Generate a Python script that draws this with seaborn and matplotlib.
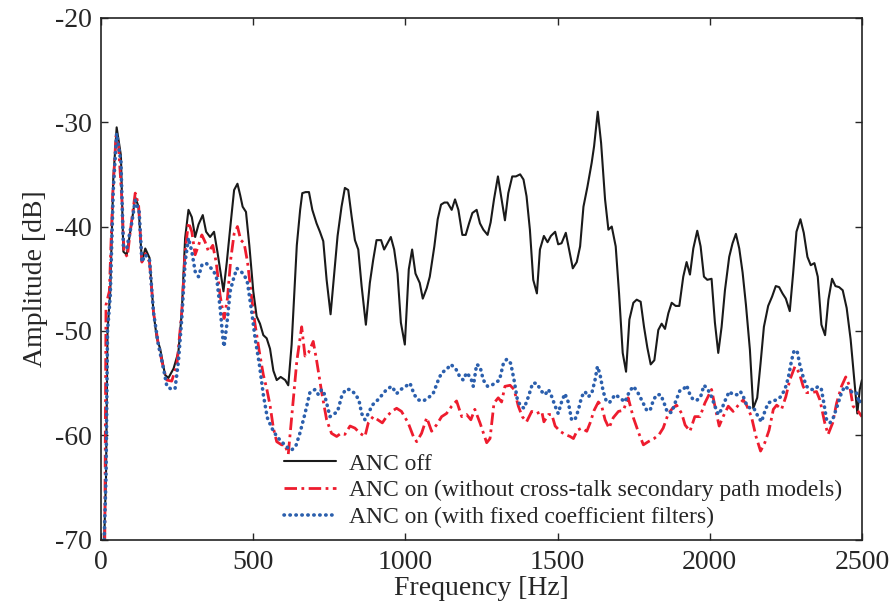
import pandas as pd
import matplotlib
matplotlib.use("Agg")
import matplotlib.pyplot as plt
import seaborn as sns

# ANC off (black solid)
off_freq = [10, 16, 21, 30, 40, 51, 65, 73, 84, 101, 112, 123, 134, 145, 159, 172, 183, 194, 210, 221,
            238, 254, 265, 276, 287, 298, 309, 320, 334, 345, 358, 371, 382, 402, 413, 426, 437, 448, 457, 465,
            476, 487, 500, 511, 522, 533, 544, 555, 566, 577, 590, 605, 615, 626, 643, 654, 661, 672, 683, 694,
            708, 719, 730, 741, 754, 766, 777, 790, 801, 812, 823, 834, 845, 856, 870, 883, 894, 905, 920, 930,
            941, 952, 963, 974, 985, 998, 1011, 1022, 1033, 1047, 1057, 1070, 1080, 1095, 1106, 1117, 1128, 1138, 1152, 1163,
            1174, 1187, 1198, 1209, 1220, 1234, 1245, 1256, 1270, 1280, 1291, 1304, 1316, 1327, 1338, 1351, 1363, 1377, 1388, 1398,
            1409, 1420, 1432, 1442, 1455, 1467, 1478, 1492, 1502, 1513, 1527, 1539, 1550, 1563, 1574, 1585, 1598, 1612, 1620, 1632,
            1643, 1656, 1667, 1678, 1691, 1702, 1714, 1725, 1736, 1749, 1760, 1773, 1784, 1795, 1806, 1818, 1831, 1842, 1853, 1864,
            1875, 1888, 1900, 1913, 1924, 1935, 1946, 1959, 1970, 1981, 1992, 2006, 2017, 2028, 2039, 2050, 2064, 2075, 2086, 2097,
            2108, 2119, 2132, 2143, 2156, 2167, 2178, 2192, 2205, 2217, 2228, 2239, 2250, 2263, 2274, 2285, 2298, 2309, 2321, 2332,
            2344, 2355, 2367, 2379, 2390, 2402, 2413, 2425, 2437, 2450, 2463, 2474, 2485, 2493, 2500]
off_amp = [-70, -64, -50, -46.2, -35.4, -30.5, -33.2, -42.4, -42.7, -39.5, -37.2, -38.1, -43.4, -42.1, -43, -48.2, -50.7, -51.7, -54.2, -54.5,
           -53.6, -52, -48.2, -41.1, -38.4, -39.1, -41, -39.8, -38.9, -40.5, -41, -40.5, -42.4, -46.2, -43.4, -39.6, -36.5, -35.9, -37, -38.1,
           -38.6, -41.8, -46.2, -48.6, -49.3, -50.4, -50.7, -51.7, -53.8, -54.7, -54.4, -54.7, -55.2, -51.3, -41.8, -38.4, -36.8, -36.7, -36.7, -38.4,
           -39.7, -40.5, -41.4, -45.1, -48.4, -44.5, -40.9, -38.1, -36.3, -36.5, -39, -41.3, -42.2, -45.7, -49.4, -45.4, -43.2, -41.3, -41.3, -42.2,
           -41.6, -41, -42.2, -44.5, -49.2, -51.3, -44.1, -42.2, -44.5, -45.4, -46.9, -45.9, -44.8, -41.9, -39.3, -37.9, -37.7, -37.7, -38.4, -37.4,
           -38.4, -40.8, -40.8, -39.7, -38.7, -38.4, -39.7, -40.3, -40.8, -39.6, -37.4, -35.2, -37.4, -39.4, -36.8, -35.2, -35.2, -35, -35.5, -37.1,
           -40.3, -45.1, -46.4, -42.2, -40.9, -41.5, -40.9, -40.5, -41.7, -41.6, -40.6, -42.4, -44, -43.4, -41.9, -38.1, -36.2, -33.9, -32.3, -29,
           -32, -37.4, -40.3, -40, -41.9, -46.4, -52.1, -53.9, -48.9, -47.3, -47, -47.2, -49.6, -51.6, -53.2, -52.8, -49.9, -49.3, -49.8, -48.3,
           -47.3, -47.6, -47.6, -44.8, -43.4, -44.6, -42.1, -40.4, -41.9, -44.8, -45.1, -45, -49.2, -52.1, -49.6, -46.1, -42.9, -41.6, -40.7, -42.1,
           -44.4, -47.5, -51.8, -57.4, -56.4, -53.1, -49.6, -47.6, -46.7, -45.7, -45.8, -46.4, -46.9, -48.1, -44.5, -40.5, -39.3, -40.6, -42.9, -43.7,
           -43.5, -44.8, -49.4, -50.4, -47, -45, -45.7, -45.8, -46.1, -47.8, -50.8, -54.3, -57.9, -55.6, -54.7]

# ANC on, without cross-talk secondary path models (red dash-dot)
xt_freq = [12, 16, 27, 38, 49, 57, 68, 75, 86, 97, 112, 123, 134, 145, 159, 172, 188, 205, 216, 232,
           249, 265, 276, 287, 298, 309, 320, 331, 342, 353, 367, 378, 391, 404, 415, 426, 437, 448, 459, 470,
           481, 495, 506, 520, 533, 544, 555, 566, 577, 593, 604, 615, 626, 643, 659, 670, 681, 697, 708, 725,
           741, 757, 774, 788, 801, 818, 834, 851, 867, 878, 894, 909, 924, 938, 955, 971, 987, 1009, 1026, 1037,
           1053, 1070, 1086, 1102, 1119, 1135, 1152, 1168, 1185, 1201, 1215, 1228, 1245, 1267, 1278, 1291, 1305, 1316, 1327, 1344,
           1357, 1371, 1384, 1398, 1415, 1431, 1448, 1455, 1470, 1481, 1492, 1508, 1524, 1541, 1552, 1565, 1579, 1596, 1607, 1620,
           1634, 1645, 1656, 1669, 1683, 1700, 1716, 1732, 1749, 1767, 1782, 1798, 1817, 1834, 1847, 1864, 1878, 1891, 1908, 1919,
           1935, 1951, 1968, 1984, 2006, 2017, 2031, 2044, 2061, 2077, 2094, 2110, 2121, 2137, 2152, 2167, 2181, 2195, 2209, 2220,
           2236, 2250, 2263, 2280, 2294, 2307, 2318, 2335, 2351, 2362, 2378, 2389, 2404, 2417, 2433, 2447, 2460, 2471, 2488, 2500]
xt_amp = [-70, -47.5, -46.2, -37, -31.3, -32.2, -37.3, -42.4, -42.9, -40.2, -36.8, -37.9, -43.4, -42.6, -43.4, -48.2, -51.3, -53.6, -54.7, -54.8,
          -53.2, -48.2, -42.4, -39.6, -40.5, -42.7, -41.8, -40.8, -41.5, -42.4, -41.8, -43.4, -46.6, -48.8, -46.9, -43.1, -40.7, -40, -41.3, -41.6,
          -43.4, -46.9, -49.4, -52, -54.2, -55.5, -57.1, -59.3, -60.6, -60.9, -60.9, -61.8, -58.3, -52.9, -49.6, -52.4, -52.1, -51, -52.8, -55.9,
          -58.5, -59.8, -60.1, -59.8, -59.9, -59.1, -59.3, -59.8, -60.1, -58.8, -58.2, -58.5, -58.8, -58.2, -57.7, -57.4, -57.7, -58.8, -60.1, -60.6,
          -59.8, -58.3, -59.6, -59, -58.2, -57.9, -57.2, -56.7, -58.2, -58, -58.5, -57.5, -58.8, -60.7, -60.3, -56.9, -56.4, -56.8, -55.3, -55.2,
          -55.6, -57.2, -58.2, -58.7, -57.7, -57.9, -57.7, -58.7, -58, -58, -59.1, -59.6, -59.9, -60.1, -60.3, -59.5, -59.3, -59.6, -58.8, -57.6,
          -56.8, -57.2, -58.5, -59.3, -58.3, -57.7, -57.6, -56.4, -58.3, -59.8, -60.9, -60.6, -60.3, -59.9, -59.3, -57.9, -57.4, -57.1, -57.9, -59,
          -59.6, -58.2, -58.2, -56.9, -55.6, -57.2, -59.1, -58.2, -57.2, -57.7, -57.1, -56.6, -57.1, -58.2, -60.1, -61.5, -60.7, -59.5, -57.5, -57.1,
          -57.5, -56.3, -54.7, -53.4, -54, -55.3, -55.9, -55.9, -55.8, -56.6, -58.8, -59.9, -58.8, -56.9, -55.3, -54.4, -55.3, -57.2, -57.7, -58.2]

# ANC on, with fixed coefficient filters (blue dotted)
fx_freq = [10, 16, 21, 30, 40, 51, 65, 73, 84, 101, 112, 125, 134, 145, 159, 172, 188, 205, 216, 232,
           243, 254, 265, 276, 287, 298, 309, 320, 331, 345, 358, 369, 380, 391, 400, 404, 413, 424, 435, 446,
           459, 470, 481, 495, 506, 520, 533, 546, 561, 577, 593, 610, 626, 640, 653, 670, 686, 703, 714, 725,
           733, 741, 752, 763, 777, 790, 803, 818, 834, 847, 856, 867, 878, 891, 909, 924, 938, 955, 971, 985,
           1001, 1015, 1029, 1042, 1059, 1075, 1091, 1108, 1119, 1135, 1149, 1165, 1179, 1190, 1201, 1215, 1223, 1234, 1245, 1256,
           1270, 1283, 1294, 1309, 1322, 1333, 1346, 1357, 1368, 1379, 1390, 1404, 1418, 1431, 1448, 1459, 1470, 1481, 1492, 1502,
           1513, 1524, 1535, 1546, 1557, 1568, 1579, 1590, 1601, 1612, 1623, 1631, 1639, 1650, 1661, 1672, 1689, 1705, 1721, 1736,
           1749, 1762, 1776, 1793, 1804, 1815, 1826, 1839, 1850, 1861, 1875, 1886, 1902, 1913, 1924, 1935, 1946, 1959, 1970, 1981,
           1992, 2006, 2017, 2028, 2039, 2050, 2064, 2077, 2090, 2101, 2112, 2123, 2134, 2145, 2159, 2170, 2181, 2192, 2206, 2220,
           2233, 2247, 2258, 2269, 2277, 2287, 2296, 2307, 2318, 2332, 2345, 2356, 2367, 2375, 2384, 2395, 2406, 2419, 2433, 2444,
           2458, 2469, 2482, 2491, 2500]
fx_amp = [-70, -64, -50, -46.6, -36.4, -31.1, -33.8, -41.8, -42.1, -39.6, -37.5, -38.6, -43.4, -42.7, -43.2, -48.2, -51.3, -53.6, -55.3, -55.6,
          -55.5, -52.9, -48.8, -43.4, -41.1, -42.4, -44.3, -44.8, -43.7, -43.5, -43.9, -44.2, -45, -47.8, -50.7, -51.5, -49.4, -46.2, -45, -44,
          -44.3, -44.6, -45.4, -48.2, -50.7, -53.2, -56.1, -58.3, -59.3, -60.1, -60.6, -61.1, -61.4, -61, -59.8, -57.9, -55.9, -55.6, -56.1, -55.6,
          -56, -56.9, -58.2, -58, -57.7, -56.3, -55.6, -55.6, -56, -56.6, -57.9, -58.5, -57.9, -57.1, -56.6, -56.1, -55.6, -55.3, -56, -55.6,
          -55.3, -55, -56.1, -56.6, -56.7, -56.4, -56, -54.7, -54, -53.7, -53.2, -53.6, -54.4, -54.7, -54, -54.5, -55.3, -53.2, -53.4, -54.7,
          -55.3, -55.2, -55, -54.7, -53.1, -52.7, -53.1, -54.7, -56.6, -57.2, -57.4, -56.3, -55, -55, -55.8, -56.1, -55.6, -56.3, -57.2, -57.9,
          -56.8, -56, -56.8, -58.5, -58.5, -57.6, -56.3, -55.8, -56.3, -56, -54.7, -53.4, -54.1, -55.8, -56.8, -56.8, -56.1, -56.4, -56.8, -55.8,
          -55.3, -55.8, -56.6, -57.6, -57.6, -56.6, -56.1, -56.1, -56.9, -57.8, -57.8, -56.9, -55.7, -55.6, -55.2, -56.1, -56.6, -56.6, -56.3, -55.2,
          -55.5, -56.3, -57.2, -58, -57.5, -56.7, -55.8, -56.1, -56.1, -55.8, -56.4, -57.2, -57.4, -57.4, -58.2, -58.7, -57.7, -56.9, -56.7, -56.6,
          -56.3, -55.6, -54.5, -52.8, -51.9, -51.9, -53.2, -54.4, -55.3, -55.6, -55.6, -55.3, -55.6, -56.9, -58.5, -58.8, -58.3, -57.2, -55.9, -55.3,
          -55.6, -55.9, -55.9, -56.9, -56.3]

labels = ["ANC off",
          "ANC on (without cross-talk secondary path models)",
          "ANC on (with fixed coefficient filters)"]

df = pd.concat([
    pd.DataFrame({"freq": off_freq, "amp": off_amp, "case": labels[0]}),
    pd.DataFrame({"freq": xt_freq, "amp": xt_amp, "case": labels[1]}),
    pd.DataFrame({"freq": fx_freq, "amp": fx_amp, "case": labels[2]}),
])

sns.set_style("ticks")
plt.rcParams["font.family"] = ["Liberation Serif", "DejaVu Serif"]
plt.rcParams["axes.unicode_minus"] = False

fig = plt.figure(figsize=(8.95, 6.1), dpi=100)
ax = fig.add_axes([0.113, 0.115, 0.850, 0.856])

palette = {labels[0]: "#1a1a1a", labels[1]: "#ee1c2e", labels[2]: "#2b5fad"}
styles = {labels[0]: "-", labels[1]: (0, (4.5, 1.6, 1.0, 1.6)), labels[2]: (0, (0.1, 1.55))}
widths = {labels[0]: 1.5, labels[1]: 2.0, labels[2]: 2.6}

for lab in labels:
    sns.lineplot(data=df[df.case == lab], x="freq", y="amp", color=palette[lab],
                 linestyle=styles[lab], linewidth=widths[lab], label=lab, ax=ax,
                 estimator=None, sort=False, dash_capstyle="round" if lab == labels[2] else "butt")

ax.set(xlim=[0, 2500], ylim=[-70, -20])
ax.set_xticks([0, 500, 1000, 1500, 2000, 2500])
ax.set_yticks([-70, -60, -50, -40, -30, -20])
ax.set_xlabel("Frequency [Hz]", fontsize=20, labelpad=1)
ax.set_ylabel("Amplitude [dB]", fontsize=20, labelpad=5)
ax.tick_params(direction="in", top=True, right=True, labelsize=20, length=5, width=1, pad=7)
for sp in ax.spines.values():
    sp.set_linewidth(1.2)
    sp.set_color("#222222")

ax.legend(loc="lower left", bbox_to_anchor=(0.225, 0.0), frameon=False, fontsize=17,
          handlelength=2.2, handletextpad=0.55, labelspacing=0.22, borderaxespad=0.1)

fig.savefig("out.png", dpi=100)
